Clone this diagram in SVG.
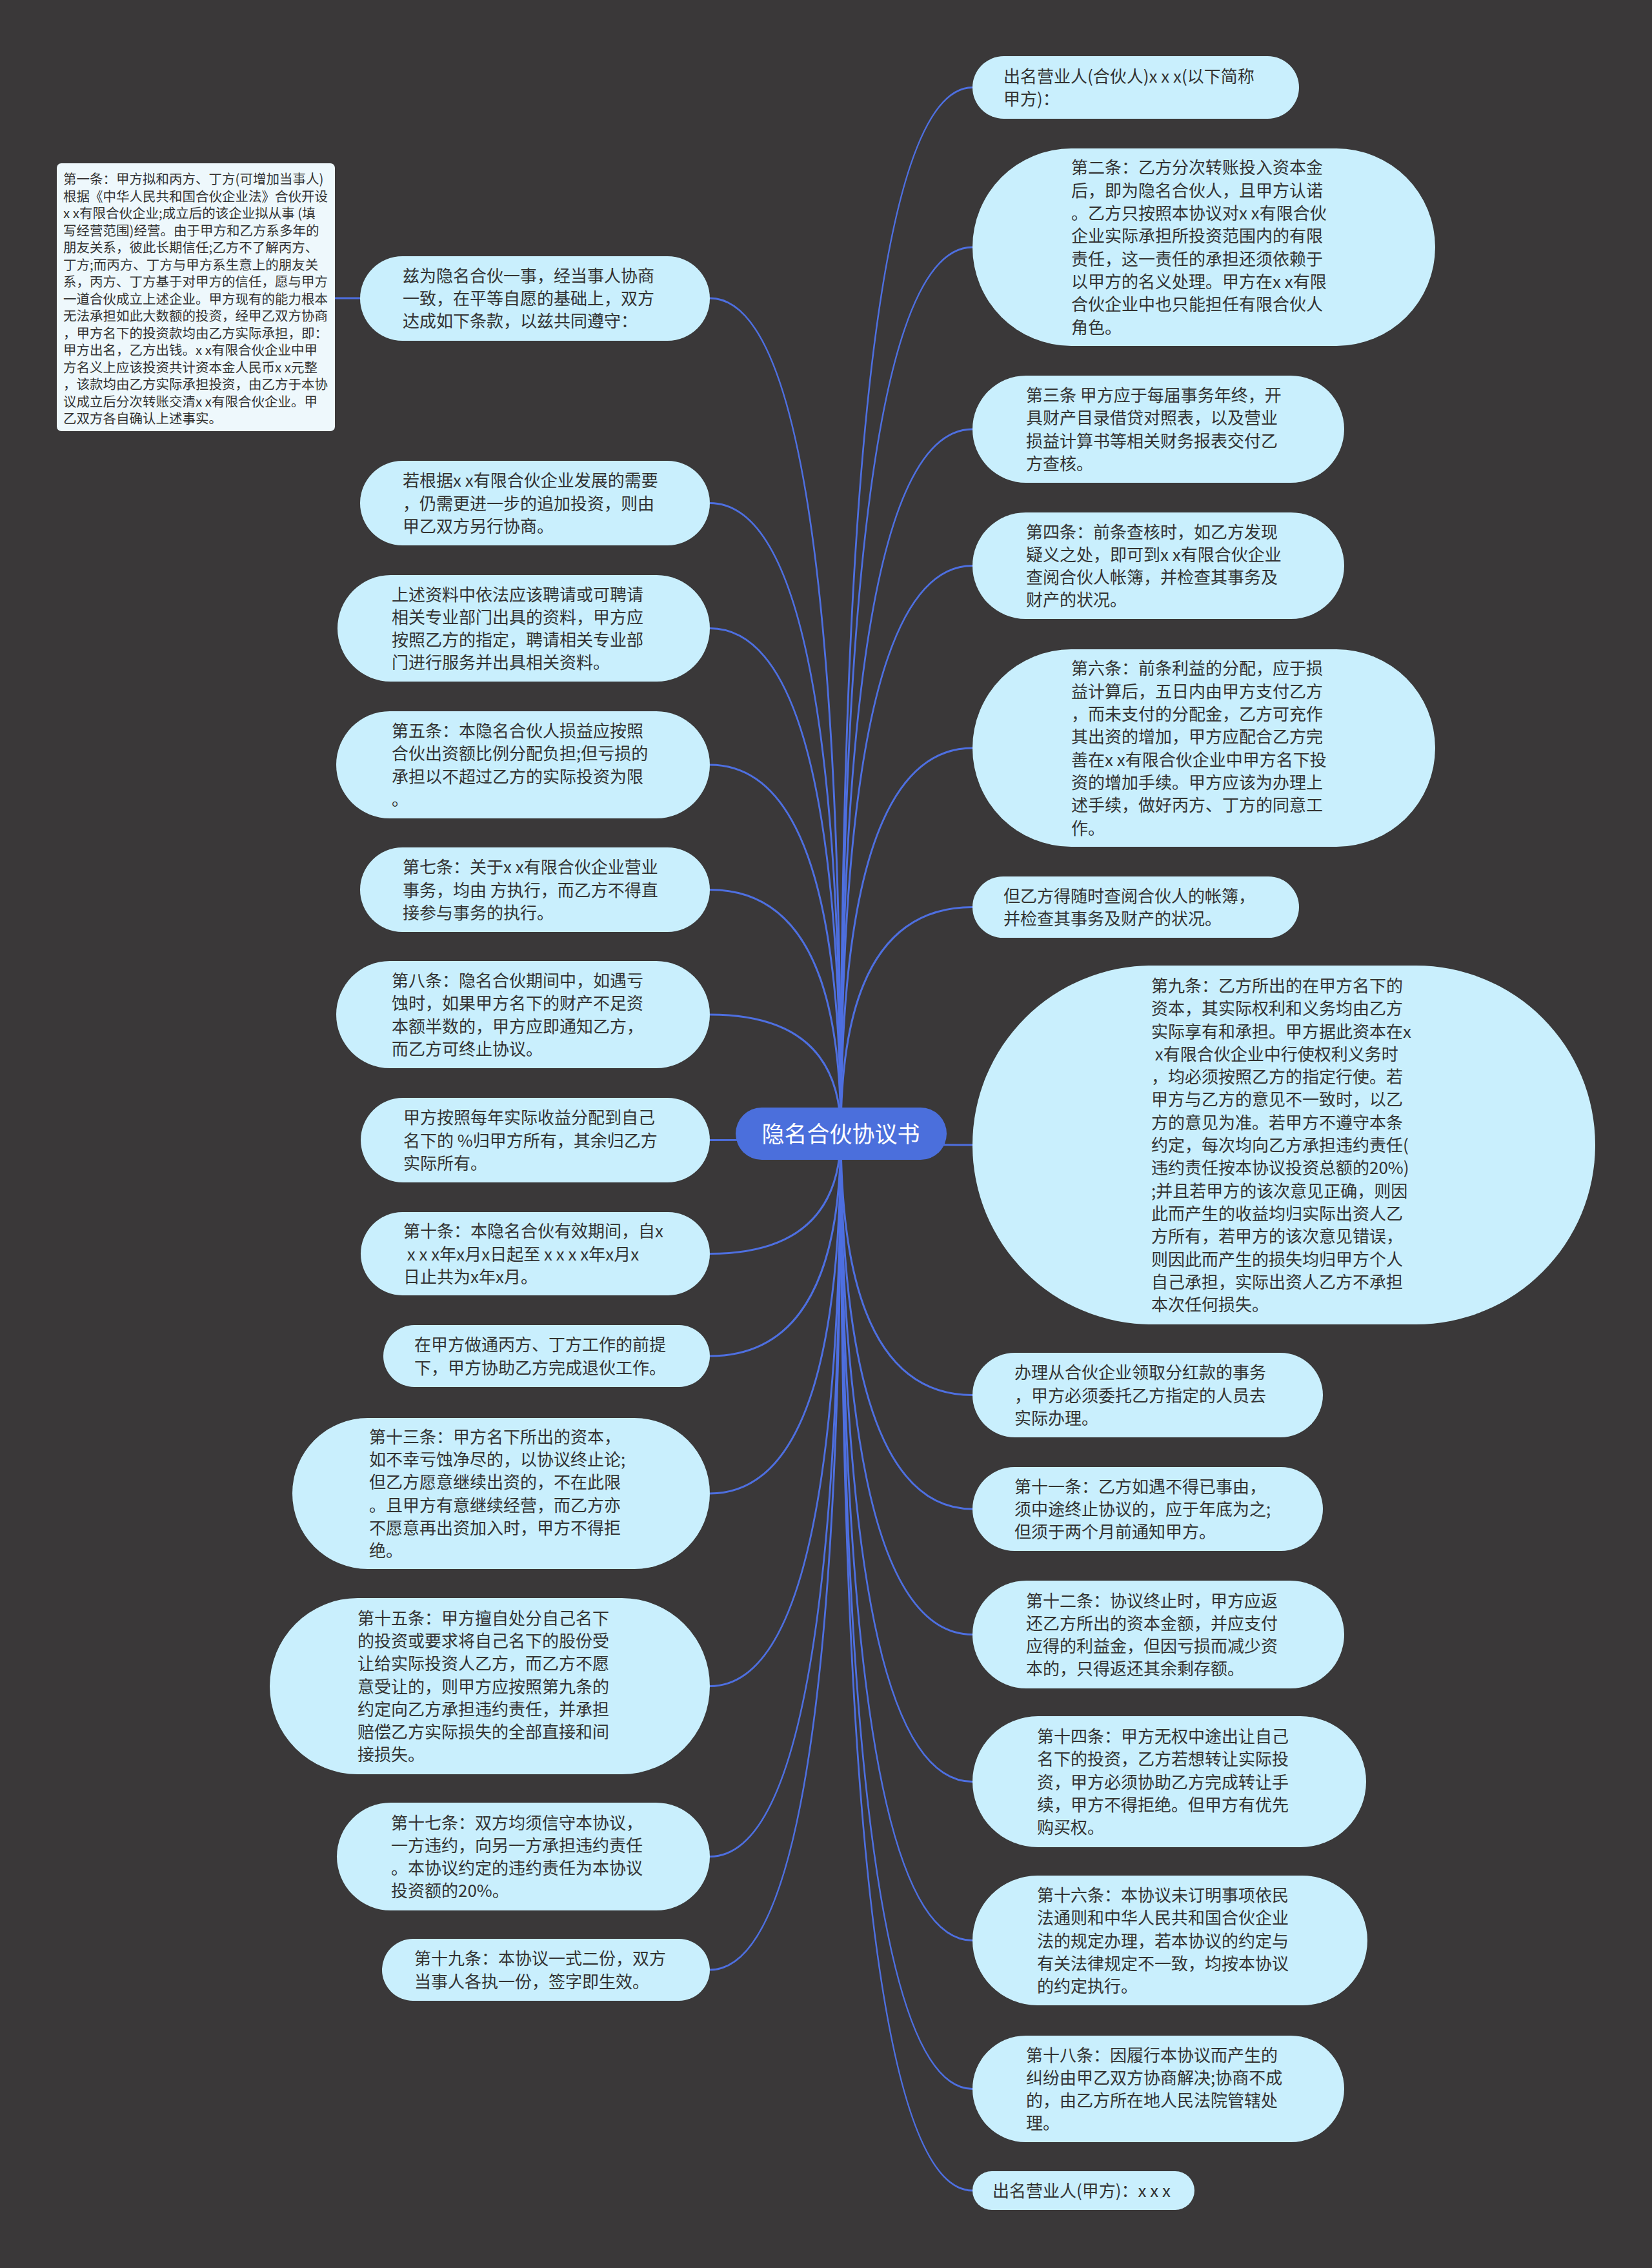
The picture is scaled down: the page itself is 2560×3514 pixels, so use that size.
<svg xmlns="http://www.w3.org/2000/svg" width="2560" height="3514" viewBox="0 0 2560 3514">
<style>
.n rect{fill:#c9effd}
.t{font-family:"Noto Sans CJK SC","Noto Sans",sans-serif;font-size:26px;fill:#333}
.nt{font-family:"Noto Sans CJK SC","Noto Sans",sans-serif;font-size:20.5px;fill:#333}
.e path{fill:none;stroke:#4e6fe0;stroke-width:3}
</style>
<rect width="2560" height="3514" fill="#3a3839"/>
<g class="e" id="connectors">
<path d="M519,462 L558,462"/>
<path d="M1303,1756 Q1303,462 1100,462"/>
<path d="M1303,1756 Q1303,779.5 1100,779.5"/>
<path d="M1303,1756 Q1303,973.5 1100,973.5"/>
<path d="M1303,1756 Q1303,1185 1100,1185"/>
<path d="M1303,1756 Q1303,1378.5 1100,1378.5"/>
<path d="M1303,1756 Q1303,1572 1100,1572"/>
<path d="M1303,1756 Q1303,1766.5 1100,1766.5"/>
<path d="M1303,1756 Q1303,1942.5 1100,1942.5"/>
<path d="M1303,1756 Q1303,2101 1100,2101"/>
<path d="M1303,1756 Q1303,2314 1100,2314"/>
<path d="M1303,1756 Q1303,2612.5 1100,2612.5"/>
<path d="M1303,1756 Q1303,2876.5 1100,2876.5"/>
<path d="M1303,1756 Q1303,3052 1100,3052"/>
<path d="M1303,1756 Q1303,135.5 1507,135.5"/>
<path d="M1303,1756 Q1303,383 1507,383"/>
<path d="M1303,1756 Q1303,665 1507,665"/>
<path d="M1303,1756 Q1303,876.5 1507,876.5"/>
<path d="M1303,1756 Q1303,1159 1507,1159"/>
<path d="M1303,1756 Q1303,1405.5 1507,1405.5"/>
<path d="M1303,1756 Q1303,1774 1507,1774"/>
<path d="M1303,1756 Q1303,2161.5 1507,2161.5"/>
<path d="M1303,1756 Q1303,2338 1507,2338"/>
<path d="M1303,1756 Q1303,2532.5 1507,2532.5"/>
<path d="M1303,1756 Q1303,2760.5 1507,2760.5"/>
<path d="M1303,1756 Q1303,3006.5 1507,3006.5"/>
<path d="M1303,1756 Q1303,3236.5 1507,3236.5"/>
<path d="M1303,1756 Q1303,3394 1507,3394"/>
</g>
<g id="root">
<rect x="1140" y="1716" width="327" height="81" rx="40.5" fill="#4b6fdc"/>
<text x="1303" y="1770" text-anchor="middle" font-family="Noto Sans CJK SC, sans-serif" font-size="35" fill="#ffffff">隐名合伙协议书</text>
</g>
<g id="note1">
<rect x="88" y="253" width="431" height="415" rx="7" fill="#eef8fc"/>
<text class="nt" y="285"><tspan x="98">第一条：甲方拟和丙方、丁方(可增加当事人)</tspan><tspan x="98" dy="26.5">根据《中华人民共和国合伙企业法》合伙开设</tspan><tspan x="98" dy="26.5">x x有限合伙企业;成立后的该企业拟从事 (填</tspan><tspan x="98" dy="26.5">写经营范围)经营。由于甲方和乙方系多年的</tspan><tspan x="98" dy="26.5">朋友关系，彼此长期信任;乙方不了解丙方、</tspan><tspan x="98" dy="26.5">丁方;而丙方、丁方与甲方系生意上的朋友关</tspan><tspan x="98" dy="26.5">系，丙方、丁方基于对甲方的信任，愿与甲方</tspan><tspan x="98" dy="26.5">一道合伙成立上述企业。甲方现有的能力根本</tspan><tspan x="98" dy="26.5">无法承担如此大数额的投资，经甲乙双方协商</tspan><tspan x="98" dy="26.5">，甲方名下的投资款均由乙方实际承担，即：</tspan><tspan x="98" dy="26.5">甲方出名，乙方出钱。x x有限合伙企业中甲</tspan><tspan x="98" dy="26.5">方名义上应该投资共计资本金人民币x x元整</tspan><tspan x="98" dy="26.5">，该款均由乙方实际承担投资，由乙方于本协</tspan><tspan x="98" dy="26.5">议成立后分次转账交清x x有限合伙企业。甲</tspan><tspan x="98" dy="26.5">乙双方各自确认上述事实。</tspan></text>
</g>
<g id="L1" class="n"><rect x="558" y="397" width="542" height="131" rx="65.5"/><text class="t" y="436.7"><tspan x="624">兹为隐名合伙一事，经当事人协商</tspan><tspan x="624" dy="35.3">一致，在平等自愿的基础上，双方</tspan><tspan x="624" dy="35.3">达成如下条款，以兹共同遵守：</tspan></text></g>
<g id="L2" class="n"><rect x="558" y="714" width="542" height="131" rx="65.5"/><text class="t" y="754.2"><tspan x="624">若根据x x有限合伙企业发展的需要</tspan><tspan x="624" dy="35.3">，仍需更进一步的追加投资，则由</tspan><tspan x="624" dy="35.3">甲乙双方另行协商。</tspan></text></g>
<g id="L3" class="n"><rect x="523" y="891" width="577" height="165" rx="82.5"/><text class="t" y="930.5"><tspan x="607">上述资料中依法应该聘请或可聘请</tspan><tspan x="607" dy="35.3">相关专业部门出具的资料，甲方应</tspan><tspan x="607" dy="35.3">按照乙方的指定，聘请相关专业部</tspan><tspan x="607" dy="35.3">门进行服务并出具相关资料。</tspan></text></g>
<g id="L4" class="n"><rect x="521" y="1102" width="579" height="166" rx="83"/><text class="t" y="1142"><tspan x="607">第五条：本隐名合伙人损益应按照</tspan><tspan x="607" dy="35.3">合伙出资额比例分配负担;但亏损的</tspan><tspan x="607" dy="35.3">承担以不超过乙方的实际投资为限</tspan><tspan x="607" dy="35.3">。</tspan></text></g>
<g id="L5" class="n"><rect x="558" y="1313" width="542" height="131" rx="65.5"/><text class="t" y="1353.2"><tspan x="624">第七条：关于x x有限合伙企业营业</tspan><tspan x="624" dy="35.3">事务，均由 方执行，而乙方不得直</tspan><tspan x="624" dy="35.3">接参与事务的执行。</tspan></text></g>
<g id="L6" class="n"><rect x="521" y="1489" width="579" height="166" rx="83"/><text class="t" y="1529"><tspan x="607">第八条：隐名合伙期间中，如遇亏</tspan><tspan x="607" dy="35.3">蚀时，如果甲方名下的财产不足资</tspan><tspan x="607" dy="35.3">本额半数的，甲方应即通知乙方，</tspan><tspan x="607" dy="35.3">而乙方可终止协议。</tspan></text></g>
<g id="L7" class="n"><rect x="559" y="1701" width="541" height="131" rx="65.5"/><text class="t" y="1741.2"><tspan x="625">甲方按照每年实际收益分配到自己</tspan><tspan x="625" dy="35.3">名下的 %归甲方所有，其余归乙方</tspan><tspan x="625" dy="35.3">实际所有。</tspan></text></g>
<g id="L8" class="n"><rect x="559" y="1878" width="541" height="129" rx="64.5"/><text class="t" y="1917.2" xml:space="preserve"><tspan x="625">第十条：本隐名合伙有效期间，自x</tspan><tspan x="625" dy="35.3"> x x x年x月x日起至 x x x x年x月x</tspan><tspan x="625" dy="35.3">日止共为x年x月。</tspan></text></g>
<g id="L9" class="n"><rect x="594" y="2053" width="506" height="96" rx="48"/><text class="t" y="2093.3"><tspan x="642">在甲方做通丙方、丁方工作的前提</tspan><tspan x="642" dy="35.3">下，甲方协助乙方完成退伙工作。</tspan></text></g>
<g id="L10" class="n"><rect x="453" y="2197" width="647" height="234" rx="117"/><text class="t" y="2235.7"><tspan x="572">第十三条：甲方名下所出的资本，</tspan><tspan x="572" dy="35.3">如不幸亏蚀净尽的，以协议终止论;</tspan><tspan x="572" dy="35.3">但乙方愿意继续出资的，不在此限</tspan><tspan x="572" dy="35.3">。且甲方有意继续经营，而乙方亦</tspan><tspan x="572" dy="35.3">不愿意再出资加入时，甲方不得拒</tspan><tspan x="572" dy="35.3">绝。</tspan></text></g>
<g id="L11" class="n"><rect x="418" y="2476" width="682" height="273" rx="136.5"/><text class="t" y="2516.6"><tspan x="554">第十五条：甲方擅自处分自己名下</tspan><tspan x="554" dy="35.3">的投资或要求将自己名下的股份受</tspan><tspan x="554" dy="35.3">让给实际投资人乙方，而乙方不愿</tspan><tspan x="554" dy="35.3">意受让的，则甲方应按照第九条的</tspan><tspan x="554" dy="35.3">约定向乙方承担违约责任，并承担</tspan><tspan x="554" dy="35.3">赔偿乙方实际损失的全部直接和间</tspan><tspan x="554" dy="35.3">接损失。</tspan></text></g>
<g id="L12" class="n"><rect x="522" y="2793" width="578" height="167" rx="83.5"/><text class="t" y="2833.5"><tspan x="606">第十七条：双方均须信守本协议，</tspan><tspan x="606" dy="35.3">一方违约，向另一方承担违约责任</tspan><tspan x="606" dy="35.3">。本协议约定的违约责任为本协议</tspan><tspan x="606" dy="35.3">投资额的20%。</tspan></text></g>
<g id="L13" class="n"><rect x="592" y="3004" width="508" height="96" rx="48"/><text class="t" y="3044.3"><tspan x="642">第十九条：本协议一式二份，双方</tspan><tspan x="642" dy="35.3">当事人各执一份，签字即生效。</tspan></text></g>
<g id="R1" class="n"><rect x="1507" y="87" width="506" height="97" rx="48.5"/><text class="t" y="127.8"><tspan x="1555">出名营业人(合伙人)x x x(以下简称</tspan><tspan x="1555" dy="35.3">甲方)：</tspan></text></g>
<g id="R2" class="n"><rect x="1507" y="230" width="717" height="306" rx="153"/><text class="t" y="269.4"><tspan x="1660">第二条：乙方分次转账投入资本金</tspan><tspan x="1660" dy="35.3">后，即为隐名合伙人，且甲方认诺</tspan><tspan x="1660" dy="35.3">。乙方只按照本协议对x x有限合伙</tspan><tspan x="1660" dy="35.3">企业实际承担所投资范围内的有限</tspan><tspan x="1660" dy="35.3">责任，这一责任的承担还须依赖于</tspan><tspan x="1660" dy="35.3">以甲方的名义处理。甲方在x x有限</tspan><tspan x="1660" dy="35.3">合伙企业中也只能担任有限合伙人</tspan><tspan x="1660" dy="35.3">角色。</tspan></text></g>
<g id="R3" class="n"><rect x="1507" y="582" width="576" height="166" rx="83"/><text class="t" y="622"><tspan x="1590">第三条 甲方应于每届事务年终，开</tspan><tspan x="1590" dy="35.3">具财产目录借贷对照表，以及营业</tspan><tspan x="1590" dy="35.3">损益计算书等相关财务报表交付乙</tspan><tspan x="1590" dy="35.3">方查核。</tspan></text></g>
<g id="R4" class="n"><rect x="1507" y="794" width="576" height="165" rx="82.5"/><text class="t" y="833.5"><tspan x="1590">第四条：前条查核时，如乙方发现</tspan><tspan x="1590" dy="35.3">疑义之处，即可到x x有限合伙企业</tspan><tspan x="1590" dy="35.3">查阅合伙人帐簿，并检查其事务及</tspan><tspan x="1590" dy="35.3">财产的状况。</tspan></text></g>
<g id="R5" class="n"><rect x="1507" y="1006" width="717" height="306" rx="153"/><text class="t" y="1045.4"><tspan x="1660">第六条：前条利益的分配，应于损</tspan><tspan x="1660" dy="35.3">益计算后，五日内由甲方支付乙方</tspan><tspan x="1660" dy="35.3">，而未支付的分配金，乙方可充作</tspan><tspan x="1660" dy="35.3">其出资的增加，甲方应配合乙方完</tspan><tspan x="1660" dy="35.3">善在x x有限合伙企业中甲方名下投</tspan><tspan x="1660" dy="35.3">资的增加手续。甲方应该为办理上</tspan><tspan x="1660" dy="35.3">述手续，做好丙方、丁方的同意工</tspan><tspan x="1660" dy="35.3">作。</tspan></text></g>
<g id="R6" class="n"><rect x="1507" y="1358" width="506" height="95" rx="47.5"/><text class="t" y="1397.8"><tspan x="1555">但乙方得随时查阅合伙人的帐簿，</tspan><tspan x="1555" dy="35.3">并检查其事务及财产的状况。</tspan></text></g>
<g id="R7" class="n"><rect x="1507" y="1496" width="965" height="556" rx="278"/><text class="t" y="1536.9" xml:space="preserve"><tspan x="1784">第九条：乙方所出的在甲方名下的</tspan><tspan x="1784" dy="35.3">资本，其实际权利和义务均由乙方</tspan><tspan x="1784" dy="35.3">实际享有和承担。甲方据此资本在x</tspan><tspan x="1784" dy="35.3"> x有限合伙企业中行使权利义务时</tspan><tspan x="1784" dy="35.3">，均必须按照乙方的指定行使。若</tspan><tspan x="1784" dy="35.3">甲方与乙方的意见不一致时，以乙</tspan><tspan x="1784" dy="35.3">方的意见为准。若甲方不遵守本条</tspan><tspan x="1784" dy="35.3">约定，每次均向乙方承担违约责任(</tspan><tspan x="1784" dy="35.3">违约责任按本协议投资总额的20%)</tspan><tspan x="1784" dy="35.3">;并且若甲方的该次意见正确，则因</tspan><tspan x="1784" dy="35.3">此而产生的收益均归实际出资人乙</tspan><tspan x="1784" dy="35.3">方所有，若甲方的该次意见错误，</tspan><tspan x="1784" dy="35.3">则因此而产生的损失均归甲方个人</tspan><tspan x="1784" dy="35.3">自己承担，实际出资人乙方不承担</tspan><tspan x="1784" dy="35.3">本次任何损失。</tspan></text></g>
<g id="R8" class="n"><rect x="1507" y="2096" width="543" height="131" rx="65.5"/><text class="t" y="2136.2"><tspan x="1572">办理从合伙企业领取分红款的事务</tspan><tspan x="1572" dy="35.3">，甲方必须委托乙方指定的人员去</tspan><tspan x="1572" dy="35.3">实际办理。</tspan></text></g>
<g id="R9" class="n"><rect x="1507" y="2273" width="543" height="130" rx="65"/><text class="t" y="2312.7"><tspan x="1572">第十一条：乙方如遇不得已事由，</tspan><tspan x="1572" dy="35.3">须中途终止协议的，应于年底为之;</tspan><tspan x="1572" dy="35.3">但须于两个月前通知甲方。</tspan></text></g>
<g id="R10" class="n"><rect x="1507" y="2449" width="576" height="167" rx="83.5"/><text class="t" y="2489.5"><tspan x="1590">第十二条：协议终止时，甲方应返</tspan><tspan x="1590" dy="35.3">还乙方所出的资本金额，并应支付</tspan><tspan x="1590" dy="35.3">应得的利益金，但因亏损而减少资</tspan><tspan x="1590" dy="35.3">本的，只得返还其余剩存额。</tspan></text></g>
<g id="R11" class="n"><rect x="1507" y="2659" width="610" height="203" rx="101.5"/><text class="t" y="2699.9"><tspan x="1607">第十四条：甲方无权中途出让自己</tspan><tspan x="1607" dy="35.3">名下的投资，乙方若想转让实际投</tspan><tspan x="1607" dy="35.3">资，甲方必须协助乙方完成转让手</tspan><tspan x="1607" dy="35.3">续，甲方不得拒绝。但甲方有优先</tspan><tspan x="1607" dy="35.3">购买权。</tspan></text></g>
<g id="R12" class="n"><rect x="1507" y="2906" width="612" height="201" rx="100.5"/><text class="t" y="2945.9"><tspan x="1607">第十六条：本协议未订明事项依民</tspan><tspan x="1607" dy="35.3">法通则和中华人民共和国合伙企业</tspan><tspan x="1607" dy="35.3">法的规定办理，若本协议的约定与</tspan><tspan x="1607" dy="35.3">有关法律规定不一致，均按本协议</tspan><tspan x="1607" dy="35.3">的约定执行。</tspan></text></g>
<g id="R13" class="n"><rect x="1507" y="3154" width="576" height="165" rx="82.5"/><text class="t" y="3193.5"><tspan x="1590">第十八条：因履行本协议而产生的</tspan><tspan x="1590" dy="35.3">纠纷由甲乙双方协商解决;协商不成</tspan><tspan x="1590" dy="35.3">的，由乙方所在地人民法院管辖处</tspan><tspan x="1590" dy="35.3">理。</tspan></text></g>
<g id="R14" class="n"><rect x="1507" y="3364" width="344" height="60" rx="30"/><text class="t" x="1538" y="3404">出名营业人(甲方)：x x x</text></g>
</svg>
